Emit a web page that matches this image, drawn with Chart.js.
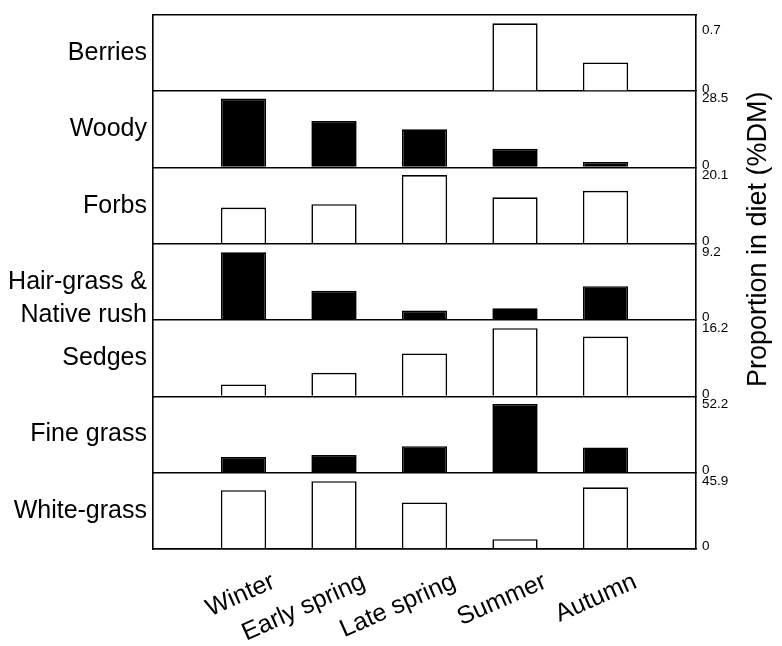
<!DOCTYPE html>
<html>
<head>
<meta charset="utf-8">
<script src="https://cdn.jsdelivr.net/npm/chart.js@4/dist/chart.umd.min.js"></script>
<style>
  html, body { margin: 0; padding: 0; background: #fff; }
  #wrap { width: 782px; height: 646px; }
</style>
</head>
<body>
<div id="wrap"><canvas id="dietChart"></canvas></div>
<script>
// seasons along the bottom, one panel per diet item
const seasons = ['Winter', 'Early spring', 'Late spring', 'Summer', 'Autumn'];
const panelNames = ['Berries', 'Woody', 'Forbs', ['', 'Hair-grass &', 'Native rush'], 'Sedges', 'Fine grass', 'White-grass'];

// proportion in diet (%DM)
const berries    = [0, 0, 0, 0.78, 0.33];
const woody      = [28.5, 19.2, 15.8, 7.8, 2.3];
const forbs      = [10.6, 11.6, 20.1, 13.6, 15.5];
const hairGrass  = [9.2, 4.0, 1.3, 1.6, 4.6];
const sedges     = [2.85, 5.6, 10.2, 16.2, 14.2];
const fineGrass  = [11.9, 13.4, 20.1, 52.2, 19.2];
const whiteGrass = [39.8, 45.9, 31.5, 6.6, 41.8];

// labelled top tick of each panel, and the top of each panel's axis
const tickMax = [0.7, 28.5, 20.1, 9.2, 16.2, 52.2, 45.9];
const axisMax = [0.875, 31.5, 22.3, 10.35, 18.1, 57.9, 51.7];
const filled  = [false, true, false, true, false, true, false];

const series = [berries, woody, forbs, hairGrass, sedges, fineGrass, whiteGrass];
const LW = 1.6;

Chart.defaults.font.family = '"Liberation Sans", Arial, sans-serif';
Chart.defaults.color = '#000';

// empty slot each side so the five seasons sit inside the frame
const xLabels = [''].concat(seasons, ['']);

const datasets = series.map(function(vals, i) {
    return {
        label: Array.isArray(panelNames[i]) ? panelNames[i].join(' ').trim() : panelNames[i],
        data: [null].concat(vals, [null]),
        yAxisID: 'y' + i,
        backgroundColor: filled[i] ? '#000' : '#fff',
        borderColor: '#000',
        borderWidth: LW,
        grouped: false,
        barPercentage: 0.5,
        categoryPercentage: 1
    };
});

function noPad(s) {
    s.paddingTop = 0;
    s.paddingBottom = 0;
}

const scales = {
    x: {
        type: 'category',
        offset: false,
        grid: { display: false, drawTicks: false },
        border: { color: '#000', width: LW },
        ticks: {
            autoSkip: false,
            minRotation: 24,
            maxRotation: 24,
            font: { size: 25 },
            padding: 18,
            labelOffset: 30
        },
        afterFit: function(s) { s.height = 97; }
    },
    xt: {
        type: 'category',
        position: 'top',
        grid: { display: false, drawTicks: false },
        ticks: { display: false },
        border: { color: '#000', width: LW },
        afterFit: function(s) { s.height = 15; }
    },
    yl: {
        type: 'category',
        position: 'left',
        labels: panelNames,
        offset: true,
        grid: { display: false, drawTicks: false },
        border: { color: '#000', width: LW },
        ticks: {
            autoSkip: false,
            padding: 6,
            font: function(c) { return { size: 25, lineHeight: c.index === 3 ? '33px' : 1.2 }; }
        },
        afterFit: function(s) { s.width = 153; noPad(s); }
    }
};

tickMax.forEach(function(m, i) {
    scales['y' + i] = {
        type: 'linear',
        position: 'right',
        stack: 'panels',
        stackWeight: 1,
        min: 0,
        max: axisMax[i],
        afterBuildTicks: function(s) { s.ticks = [{ value: 0 }, { value: m }]; },
        grid: {
            drawTicks: false,
            lineWidth: LW,
            color: function(c) { return c.tick && c.tick.value === 0 ? '#000' : 'rgba(0,0,0,0)'; }
        },
        border: { color: '#000', width: LW },
        ticks: {
            autoSkip: false,
            padding: 6,
            font: function(c) {
                return { size: 13.5, lineHeight: c.tick && c.tick.value === 0 ? '5px' : 1.2 };
            },
            callback: function(v) { return v === 0 ? ['0', ''] : String(v); }
        },
        afterFit: function(s) { s.width = 86; noPad(s); }
    };
});

// axis title reads bottom-to-top on the right side
const yTitle = {
    id: 'yTitle',
    afterDraw: function(chart) {
        const a = chart.chartArea;
        const ctx = chart.ctx;
        ctx.save();
        ctx.translate(a.right + 63, a.top + (a.bottom - a.top) * 0.42);
        ctx.rotate(-Math.PI / 2);
        ctx.font = '27px "Liberation Sans", Arial, sans-serif';
        ctx.fillStyle = '#000';
        ctx.textAlign = 'center';
        ctx.textBaseline = 'middle';
        ctx.fillText('Proportion in diet (%DM)', 0, 0);
        ctx.restore();
    }
};

new Chart(document.getElementById('dietChart').getContext('2d'), {
    type: 'bar',
    data: { labels: xLabels, datasets: datasets },
    options: {
        responsive: true,
        maintainAspectRatio: false,
        animation: false,
        layout: { padding: 0 },
        plugins: {
            legend: { display: false },
            tooltip: { enabled: false }
        },
        scales: scales
    },
    plugins: [yTitle]
});
</script>
</body>
</html>
